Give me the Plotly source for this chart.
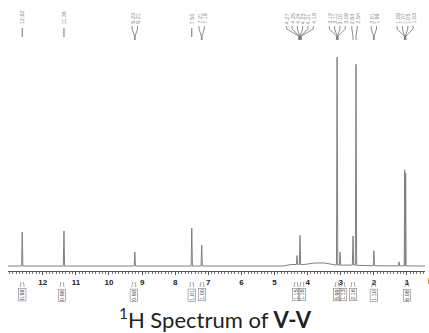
import numpy as np
import plotly.graph_objects as go

# ---- data (ppm, intensity in arbitrary units) ----
peak_ppm = [12.62, 11.36, 9.22, 7.50, 7.20, 4.32, 4.23, 3.11, 3.02, 2.63, 2.54, 2.00, 1.24, 1.07, 1.04]
peak_int = [34, 35, 14, 38, 21, 9, 29, 208, 13, 29, 201, 15, 4, 96, 93]

base_ppm = [13.05, 4.75, 4.50, 4.10, 3.80, 3.50, 3.30, 3.20, 2.90, 2.70, 2.30, 0.45]
base_int = [0, 0, 1.5, 1.5, 3, 3, 2, 1, 0.8, 1, 0.3, 0]

label_groups = [
    ["12.62"], ["11.36"], ["9.23", "9.21"], ["7.50"], ["7.21", "7.19"],
    ["4.27", "4.25", "4.24", "4.23", "4.21", "4.19"],
    ["3.13", "3.11", "3.10", "3.08"], ["2.63", "2.54"], ["2.01", "1.99"],
    ["1.08", "1.07", "1.05", "1.03"],
]

integ_ppm = [12.62, 11.42, 9.25, 7.50, 7.19, 4.35, 4.17, 3.11, 2.93, 2.63, 2.00, 1.00]
integ_val = ["0.98", "0.98", "0.98", "1.01", "1.00", "1.15", "1.16", "5.99", "1.13", "2.16", "1.10", "6.08"]

tick_vals = list(range(1, 13))

# ---- build the spectrum polyline from the peak list ----
bp = np.array(base_ppm[::-1]); bi = np.array(base_int[::-1])
def base(x):
    return float(np.interp(x, bp, bi))

pk = sorted(zip(peak_ppm, peak_int), reverse=True)
pts = []
windows = []
for i, (p, h) in enumerate(pk):
    gaps = []
    if i > 0:
        gaps.append(pk[i - 1][0] - p)
    if i < len(pk) - 1:
        gaps.append(p - pk[i + 1][0])
    w = min([0.02] + [g / 2.2 for g in gaps])
    windows.append((p - w, p + w))
    pts += [(p + w, base(p + w)), (p, base(p) + h), (p - w, base(p - w))]
for x, y in zip(base_ppm, base_int):
    if not any(a - 0.005 <= x <= b + 0.005 for a, b in windows):
        pts.append((x, y))
pts.sort(key=lambda t: -t[0])
sx = [t[0] for t in pts]; sy = [t[1] for t in pts]

fig = go.Figure()
fig.add_trace(go.Scatter(x=sx, y=sy, mode="lines",
                         line=dict(color="#808080", width=1), hoverinfo="skip"))

Y_TOP = 266
def yv(px):
    return 266 - px

shapes = []
annotations = []
SP = 0.16
LAB = "#8c8c8c"
for g in label_groups:
    vals = [float(s) for s in g]
    c = sum(vals) / len(vals)
    n = len(g)
    for k, (s, v) in enumerate(zip(g, vals)):
        xl = c + (n - 1) / 2 * SP - k * SP
        annotations.append(dict(x=xl, y=yv(26), xref="x", yref="y", text=s,
                                textangle=-90, showarrow=False, yanchor="bottom",
                                xanchor="center",
                                font=dict(size=5.5, color=LAB, family="Liberation Sans")))
        if n == 1 and abs(xl - v) < 1e-6:
            shapes.append(dict(type="line", xref="x", yref="y", x0=v, x1=v,
                               y0=yv(28), y1=yv(37), line=dict(color="#707070", width=1)))
        else:
            shapes.append(dict(type="path", xref="x", yref="y",
                               path=f"M {xl},{yv(26)} L {xl},{yv(29)} L {v},{yv(36)} L {v},{yv(40)}",
                               line=dict(color="#707070", width=0.8)))

def py(px):
    return (271 - px) / 271
for x, v in zip(integ_ppm, integ_val):
    annotations.append(dict(x=x, y=py(295), xref="x", yref="paper", text=v,
                            textangle=-90, showarrow=False, yanchor="middle",
                            xanchor="center", bordercolor="#808080", borderwidth=0.6,
                            borderpad=0.5,
                            font=dict(size=5.5, color="#444", family="Liberation Sans")))
    for dx in (-0.06, 0.06):
        shapes.append(dict(type="line", xref="x", yref="paper", x0=x + dx, x1=x + dx * 0.6,
                           y0=py(287), y1=py(282), line=dict(color="#808080", width=0.7)))

annotations.append(dict(x=1.0, y=py(279), xref="paper", yref="paper", text="<b>ppm</b>",
                        showarrow=False, xanchor="left", yanchor="middle", xshift=1,
                        font=dict(size=8, color="#333", family="Liberation Sans")))
annotations.append(dict(x=0.497, y=py(318), xref="paper", yref="paper",
                        text="<sup>1</sup>H Spectrum of <b>V-V</b>",
                        showarrow=False, xanchor="center", yanchor="middle",
                        font=dict(size=22, color="#222", family="Lato")))

fig.update_layout(
    width=429, height=333, autosize=False,
    margin=dict(l=8, r=4, t=0, b=62),
    paper_bgcolor="white", plot_bgcolor="white",
    showlegend=False,
    shapes=shapes, annotations=annotations,
    xaxis=dict(range=[13.05, 0.456], showgrid=False, zeroline=False,
               showline=True, linecolor="#555", linewidth=1,
               ticks="outside", ticklen=3, tickwidth=1, tickcolor="#555",
               tickvals=tick_vals, ticktext=[str(t) for t in tick_vals],
               tickfont=dict(size=8, color="#222", family="Liberation Sans", weight="bold"),
               minor=dict(ticks="outside", dtick=0.1, tick0=0, ticklen=2,
                          tickcolor="#777", tickwidth=0.6)),
    yaxis=dict(range=[-5, Y_TOP], visible=False, fixedrange=True),
)

fig.write_html("out.html", config={"displayModeBar": False},
               post_script="document.body.style.margin='0';document.body.style.overflow='hidden';")
